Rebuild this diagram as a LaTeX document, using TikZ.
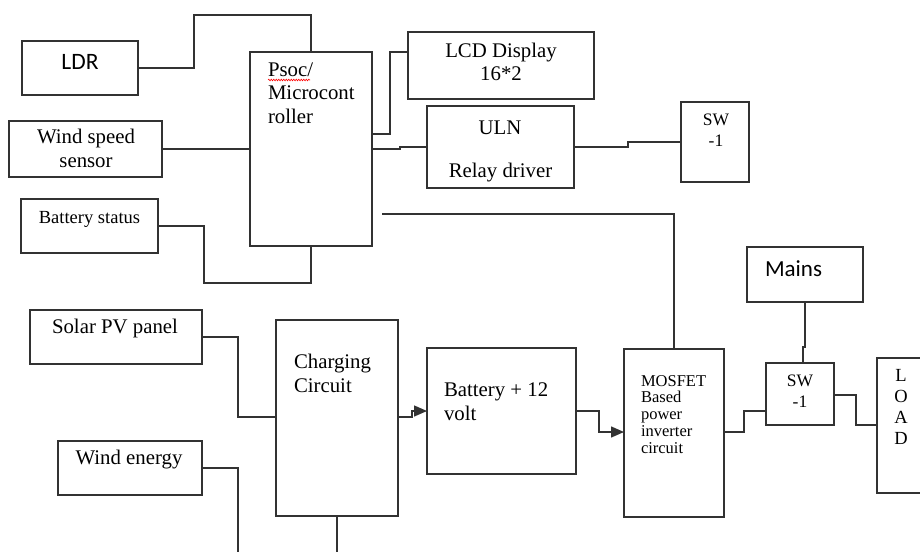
\documentclass[tikz,border=0pt]{standalone}
\usepackage{fontspec}
\setmainfont{Liberation Serif}
\newfontfamily\calib{Carlito}
\usetikzlibrary{arrows.meta,decorations.pathmorphing}
\definecolor{linec}{RGB}{50,50,50}
\begin{document}
\begin{tikzpicture}[x=1pt,y=-1pt,
 box/.style={draw=linec, line width=1.4pt, inner sep=0pt, outer sep=0pt, anchor=north west},
 wire/.style={draw=linec, line width=1.4pt},
 arr/.style={wire, -{Triangle[length=13pt,width=11pt]}},
 txt/.style={inner sep=0pt, outer sep=0pt, font=\fontsize{20.8}{23.5}\selectfont},
 stxt/.style={inner sep=0pt, outer sep=0pt, font=\fontsize{17.5}{21}\selectfont},
 mtxt/.style={inner sep=0pt, outer sep=0pt, font=\fontsize{16.5}{16.75}\selectfont},
 ctxt/.style={inner sep=0pt, outer sep=0pt, font=\calib\fontsize{23.5}{26}\selectfont}]
\useasboundingbox (0,0) rectangle (920,551);
% boxes
\node[box, minimum width=116pt, minimum height=54pt] (ldr) at (22,41) {};
\node[box, minimum width=122pt, minimum height=194pt] (psoc) at (250,52) {};
\node[box, minimum width=153pt, minimum height=56pt] (ws) at (9,121) {};
\node[box, minimum width=137pt, minimum height=54pt] (bs) at (21,199) {};
\node[box, minimum width=186pt, minimum height=67pt] (lcd) at (408,32) {};
\node[box, minimum width=147pt, minimum height=82pt] (uln) at (427,106) {};
\node[box, minimum width=68pt, minimum height=80pt] (sw1) at (681,102) {};
\node[box, minimum width=172pt, minimum height=54pt] (solar) at (30,310) {};
\node[box, minimum width=144pt, minimum height=54pt] (wind) at (58,441) {};
\node[box, minimum width=122pt, minimum height=196pt] (charge) at (276,320) {};
\node[box, minimum width=149pt, minimum height=126pt] (bat) at (427,348) {};
\node[box, minimum width=100pt, minimum height=168pt] (mos) at (624,349) {};
\node[box, minimum width=116pt, minimum height=55pt] (mains) at (747,247) {};
\node[box, minimum width=68pt, minimum height=62pt] (sw2) at (766,363) {};
\node[box, minimum width=60pt, minimum height=135pt] (load) at (877,358) {};
% texts (anchor base = baseline of the last line)
\node[ctxt, anchor=base] (tldr) at (80,70) {LDR};
\node[txt, anchor=base west, align=left] (tpsoc) at (268,123) {Psoc/\\Microcont\\roller};
\draw[red, line width=0.6pt, decorate, decoration={snake, amplitude=0.8pt, segment length=2.5pt}] (268,80) -- (310,80);
\node[txt, anchor=base, align=center] (tws) at (86,167) {Wind speed\\sensor};
\node[stxt, font=\fontsize{18.5}{21}\selectfont, anchor=base] (tbs) at (89.5,223) {Battery status};
\node[txt, anchor=base, align=center] (tlcd) at (501,81) {LCD Display\\16*2};
\node[txt, anchor=base] (tuln) at (500,134) {ULN};
\node[txt, anchor=base] (trelay) at (500.5,177) {Relay driver};
\node[stxt, anchor=base, align=center] (tsw1) at (716,146) {SW\\-1};
\node[txt, anchor=base] (tsolar) at (115,333) {Solar PV panel};
\node[txt, anchor=base] (twind) at (129,464) {Wind energy};
\node[txt, anchor=base west, align=left] (tcharge) at (294,392) {Charging\\Circuit};
\node[txt, anchor=base west, align=left] (tbat) at (444,420) {Battery + 12\\volt};
\node[mtxt, anchor=base west, align=left] (tmos) at (641,453) {MOSFET\\Based\\power\\inverter\\circuit};
\node[ctxt, font=\calib\fontsize{23}{26}\selectfont, anchor=base west] (tmains) at (765,276) {Mains};
\node[stxt, anchor=base, align=center] (tsw2) at (800,407) {SW\\-1};
\node[stxt, anchor=base, align=center, font=\fontsize{18.5}{20.7}\selectfont] (tload) at (901,444) {L\\O\\A\\D};
% connectors
\draw[wire] (ldr.east) -| (194,15) -| (psoc.north);
\draw[wire] (ws.east) -- (ws.east -| psoc.west);
\draw[wire] (bs.east) -| (204,283) -| (psoc.south);
\draw[wire] (psoc.east |- 0,134) -- (390,134) -- (390,52) -- (lcd.west |- 0,52);
\draw[wire] (psoc.east |- 0,149) -- (400,149) -- (400,147) -- (uln.west);
\draw[wire] (uln.east) -- (628,147) -- (628,142) -- (sw1.west);
\coordinate (pm) at (382,214);
\draw[wire] (pm) -| (mos.north);
\draw[wire] (solar.east) -| (238,417) -- (charge.west |- 0,417);
\coordinate (windend) at (238,553);
\draw[wire] (wind.east) -| (windend);
\coordinate (chend) at (337,553);
\draw[wire] (charge.south) -- (chend);
\draw[arr] (charge.east |- 0,417) -- (412,417) -- (412,411) -- (bat.west);
\draw[arr] (bat.east) -- (599,411) -- (599,432) -- (mos.west |- 0,432);
\draw[wire] (mos.east |- 0,432) -- (744,432) -- (744,411) -- (sw2.west |- 0,411);
\draw[wire] (sw2.east |- 0,395) -- (856,395) -- (856,425) -- (load.west |- 0,425);
\draw[wire] (mains.south) -- (805,347) -- (803,347) -- (sw2.north -| 803,0);
\end{tikzpicture}
\end{document}
